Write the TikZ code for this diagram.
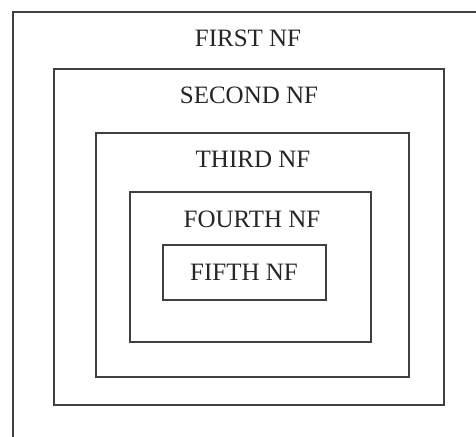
\documentclass[tikz,border=0pt]{standalone}
\usepackage{fontspec}
\setmainfont{Liberation Serif}
\begin{document}
\begin{tikzpicture}[x=1pt,y=-1pt,
  frame/.style={draw=black!75, line width=1.5pt, inner sep=0pt, outer sep=0pt},
  lbl/.style={font=\fontsize{25}{25}\selectfont, text=black!85, inner sep=0pt, anchor=base}]
\clip (0,0) rectangle (476,436);
\fill[white] (0,0) rectangle (476,436);
% boxes
\node[frame, minimum width=472pt, minimum height=450pt] (b1) at (249,237) {};
\node[frame, minimum width=390pt, minimum height=336pt] (b2) at (249,237) {};
\node[frame, minimum width=313pt, minimum height=244pt] (b3) at (252.5,255) {};
\node[frame, minimum width=241pt, minimum height=150pt] (b4) at (250.5,267) {};
\node[frame, minimum width=163pt, minimum height=55pt] (b5) at (244.5,272.5) {};
% labels
\node[lbl] (t1) at (248,46.5) {FIRST NF};
\node[lbl] (t2) at (249,103) {SECOND NF};
\node[lbl] (t3) at (253,167.5) {THIRD NF};
\node[lbl] (t4) at (252,227) {FOURTH NF};
\node[lbl] (t5) at (244,280) {FIFTH NF};
\end{tikzpicture}
\end{document}
